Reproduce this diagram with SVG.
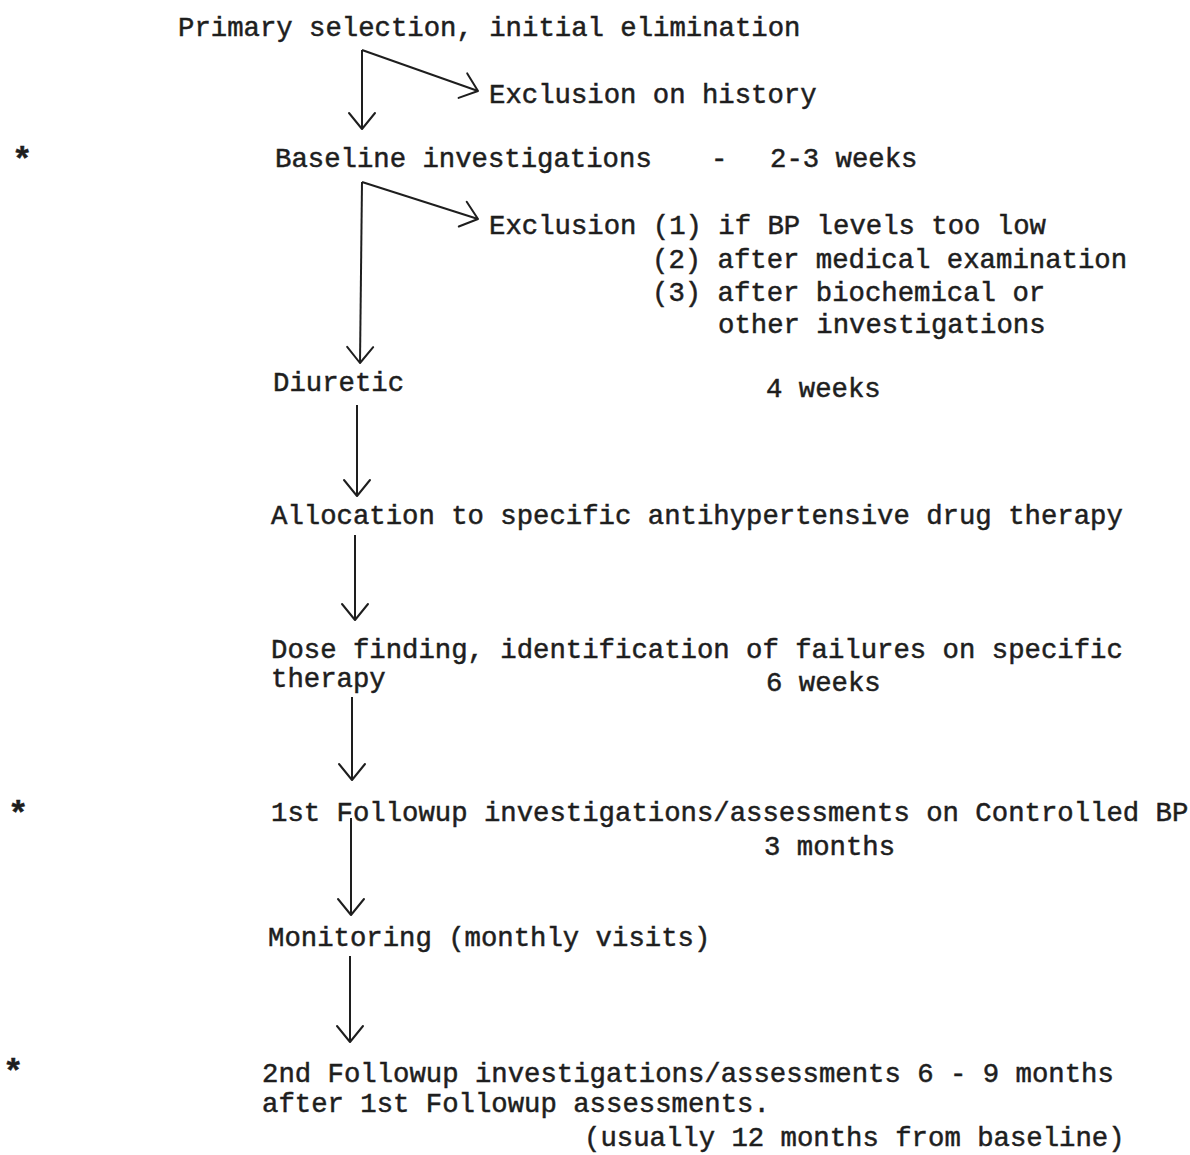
<svg xmlns="http://www.w3.org/2000/svg" width="1190" height="1155" viewBox="0 0 1190 1155">
<style>
text{font-family:"Liberation Mono","DejaVu Sans Mono",monospace;font-size:27.3px;fill:#1e1e1e;stroke:#1e1e1e;stroke-width:0.5}
.star{font-size:34px;font-weight:bold}
.c{stroke:#1e1e1e;stroke-width:2;fill:none}
.ah{stroke:#1e1e1e;stroke-width:2;fill:none;stroke-linecap:round;stroke-linejoin:round}
</style>
<defs>
<marker id="v" markerUnits="userSpaceOnUse" markerWidth="40" markerHeight="40" refX="20" refY="20" orient="auto" viewBox="0 0 40 40">
<path class="ah" d="M4,7 L20,20 L4,33"/>
</marker>
</defs>
<rect width="1190" height="1155" fill="#fff"/>
<g id="connectors">
<path class="c" d="M362,50 V129" marker-end="url(#v)"/>
<path class="c" d="M362,50 L478,91" marker-end="url(#v)"/>
<path class="c" d="M362,182 L360,363" marker-end="url(#v)"/>
<path class="c" d="M362,182 L478,219" marker-end="url(#v)"/>
<path class="c" d="M357,405 V496" marker-end="url(#v)"/>
<path class="c" d="M355,535 V620" marker-end="url(#v)"/>
<path class="c" d="M352,697 V780" marker-end="url(#v)"/>
<path class="c" d="M351,818 V915" marker-end="url(#v)"/>
<path class="c" d="M350,956 V1042" marker-end="url(#v)"/>
</g>
<g id="n1"><text x="178" y="36">Primary selection, initial elimination</text></g>
<g id="n2"><text x="489" y="103">Exclusion on history</text></g>
<g id="n3"><text x="275" y="167">Baseline investigations</text><text x="711" y="167">-</text><text x="770" y="167">2-3 weeks</text></g>
<g id="n4"><text x="489" y="234">Exclusion (1) if BP levels too low</text>
<text x="652" y="268">(2) after medical examination</text>
<text x="652" y="301">(3) after biochemical or</text>
<text x="718" y="333">other investigations</text></g>
<g id="n5"><text x="273" y="391">Diuretic</text><text x="766" y="397">4 weeks</text></g>
<g id="n6"><text x="271" y="524">Allocation to specific antihypertensive drug therapy</text></g>
<g id="n7"><text x="271" y="658">Dose finding, identification of failures on specific</text>
<text x="271" y="687">therapy</text><text x="766" y="691">6 weeks</text></g>
<g id="n8"><text x="271" y="821">1st Followup investigations/assessments on Controlled BP</text>
<text x="764" y="855">3 months</text></g>
<g id="n9"><text x="268" y="946">Monitoring (monthly visits)</text></g>
<g id="n10"><text x="262" y="1082">2nd Followup investigations/assessments 6 - 9 months</text>
<text x="262" y="1112">after 1st Followup assessments.</text>
<text x="584" y="1146">(usually 12 months from baseline)</text></g>
<g id="stars"><text class="star" x="12" y="170">*</text><text class="star" x="8" y="824">*</text><text class="star" x="3" y="1082">*</text></g>
</svg>
